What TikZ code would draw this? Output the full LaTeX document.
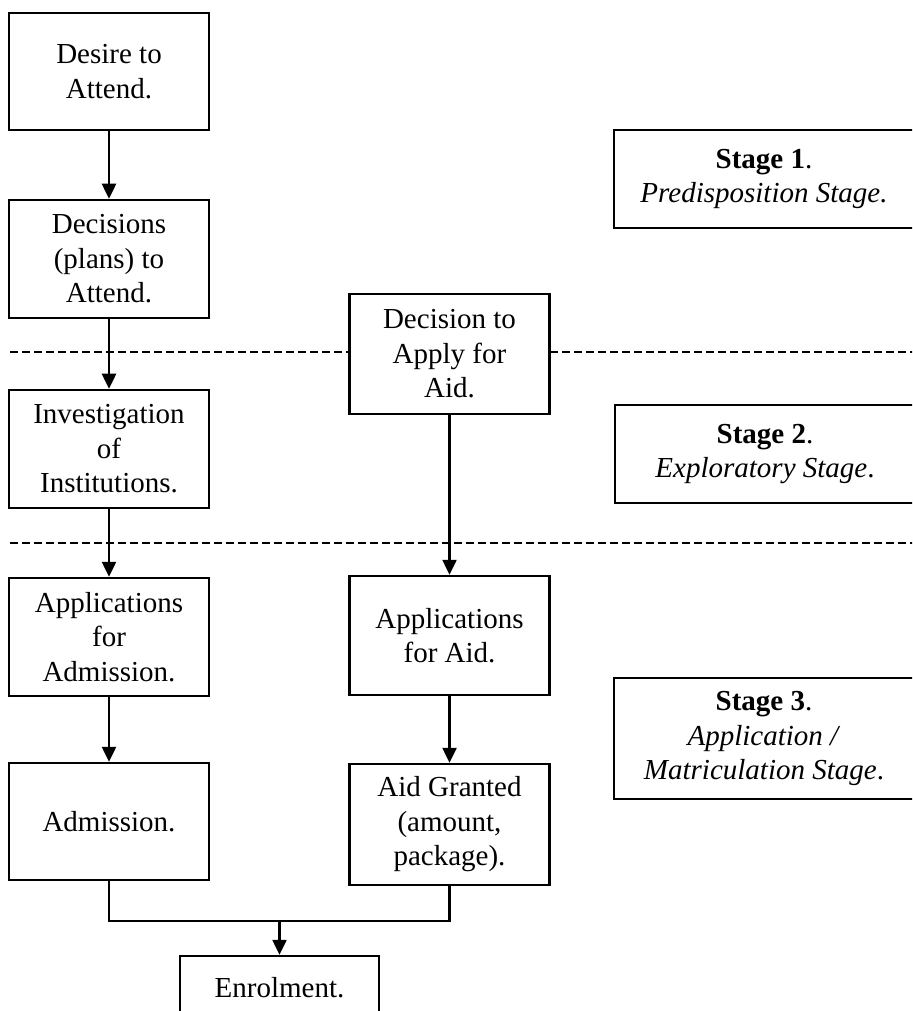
\documentclass[tikz,border=0pt]{standalone}
\usepackage{fontspec}
\setmainfont{Liberation Serif}
\usetikzlibrary{arrows.meta}
\newlength{\du}
\setlength{\du}{0.4pt}
\definecolor{dialinecolor}{rgb}{0.000000, 0.000000, 0.000000}
\tikzset{
  flowbox/.style={draw=dialinecolor, fill=white, line width=2.5\du, align=center, inner sep=0pt,
    minimum width=200\du, font=\fontsize{11.6}{13.8}\selectfont},
  stagebox/.style={flowbox, minimum width=300\du},
  arrowline/.style={draw=dialinecolor, line width=2.5\du, -{Triangle[width=5.6pt,length=6pt]}},
  joinline/.style={draw=dialinecolor, line width=2.5\du},
  stageline/.style={draw=dialinecolor, line width=2.5\du, dash pattern=on 8\du off 4\du},
}
\begin{document}
\begin{tikzpicture}
\pgftransformxscale{1.000000}
\pgftransformyscale{-1.000000}
\useasboundingbox (0\du,0\du) rectangle (912\du,1011\du);
\clip (0\du,0\du) rectangle (912\du,1011\du);
% stage dividers
\coordinate (divAw) at (10\du,352\du);
\coordinate (divAe) at (930\du,352\du);
\coordinate (divBw) at (10\du,543\du);
\coordinate (divBe) at (930\du,543\du);
\draw[stageline] (divAw)--(divAe);
\draw[stageline] (divBw)--(divBe);
% left column
\node[flowbox, minimum height=117\du] (desire) at (109\du,71.5\du){Desire to\\Attend.};
\node[flowbox, minimum height=118\du] (decisions) at (109\du,259\du){Decisions\\(plans) to\\Attend.};
\node[flowbox, minimum height=118\du] (investigation) at (109\du,449\du){Investigation\\of\\Institutions.};
\node[flowbox, minimum height=118\du] (appadmission) at (109\du,637\du){Applications\\for\\Admission.};
\node[flowbox, minimum height=117\du] (admission) at (109\du,821.5\du){Admission.};
% middle column
\node[flowbox, minimum height=120\du] (applyaid) at (449.5\du,354\du){Decision to\\Apply for\\Aid.};
\node[flowbox, minimum height=119\du] (appaid) at (449.5\du,635.5\du){Applications\\for Aid.};
\node[flowbox, minimum height=121\du] (granted) at (449.5\du,824.5\du){Aid Granted\\(amount,\\package).};
\node[flowbox, minimum width=199\du, minimum height=64\du] (enrolment) at (279.5\du,988\du){Enrolment.};
% stage labels
\node[stagebox, minimum height=98\du] (stageA) at (764\du,179\du){\textbf{Stage 1}.\\\textit{Predisposition Stage.}};
\node[stagebox, minimum height=98\du] (stageB) at (765\du,454\du){\textbf{Stage 2}.\\\textit{Exploratory Stage}.};
\node[stagebox, minimum height=121\du] (stageC) at (764\du,738.5\du){\textbf{Stage 3}.\\\textit{Application /}\\\textit{Matriculation Stage}.};
% connectors
\draw[arrowline] (desire)--(decisions);
\draw[arrowline] (decisions)--(investigation);
\draw[arrowline] (investigation)--(appadmission);
\draw[arrowline] (appadmission)--(admission);
\draw[arrowline] (applyaid)--(appaid);
\draw[arrowline] (appaid)--(granted);
\coordinate (join) at (279.5\du,921\du);
\draw[joinline] (admission.south) |- (join) -| (granted.south);
\draw[arrowline] (join)--(enrolment);
\end{tikzpicture}
\end{document}
